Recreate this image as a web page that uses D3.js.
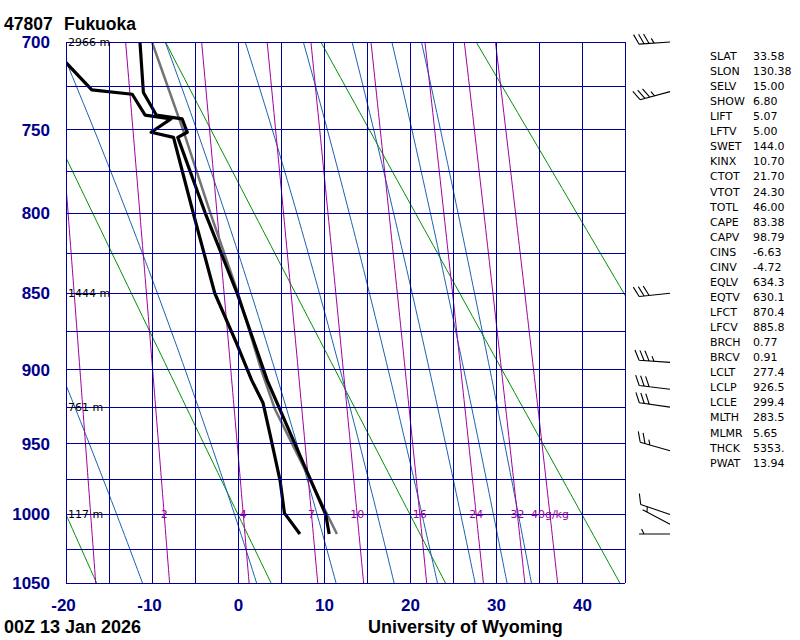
<!DOCTYPE html>
<html>
<head>
<meta charset="utf-8">
<title>47807 Fukuoka</title>
<script src="https://cdn.jsdelivr.net/npm/d3@7"></script>
<style>
body { margin: 0; background: #fff; }
svg text { font-family: "DejaVu Sans", sans-serif; }
.bold { font-family: "Liberation Sans", Arial, sans-serif; font-weight: bold; }
</style>
</head>
<body>
<svg id="chart" width="800" height="640"></svg>
<script>
// ----- sounding (hPa, degC) -----
var tempP = [1014, 1000, 907, 850, 800, 754.5, 751.5, 743.7, 741.5, 728.5, 700];
var tempT = [10.6, 10.2, 3.4, -0.1, -3.8, -7.0, -5.9, -6.5, -9.5, -11.0, -11.4];

var dewP = [1014, 999, 976, 943, 922, 907, 882, 850, 800, 754.5, 751.5, 743.7, 741.5, 729.5, 727, 711, 700];
var dewT = [7.2, 5.4, 4.9, 3.7, 2.9, 1.6, -0.2, -2.7, -5.2, -7.5, -10.1, -7.8, -10.8, -12.3, -17.0, -20.1, -22.4];

var parcelP = [1014, 926.5, 900, 850, 800, 750, 700];
var parcelT = [11.5, 4.3, 2.7, 0.0, -3.2, -6.4, -10.0];

// height labels on the left
var hgtP = [700, 850, 925, 1000];
var hgtLabel = ["2966 m", "1444 m", "761 m", "117 m"];

// winds (direction deg, speed kt)
var windP = [700, 728, 850, 895, 913, 925, 955, 1000, 1007, 1014];
var windDir = [266, 255, 264, 274, 277, 278, 286, 289, 298, 270];
var windSpd = [35, 35, 30, 35, 30, 30, 25, 10, 5, 5];

// background lines
var isotherms = d3.range(-20, 46, 5);
var isobars = d3.range(700, 1051, 25);
var dryTheta = [-20, 0, 20, 40, 60, 80];             // potential temp, degC
var moistTw = [-14.1, -0.4, 9.2, 16.2, 21.4, 25.9, 29.7, 32.6];  // temp at 1000 hPa
var mixRatio = [1, 2, 4, 7, 10, 16, 24, 32, 40];     // g/kg
var mixLabel = ["", "2", "4", "7", "10", "16", "24", "32", "40g/kg"];

// axis labels
var pLabels = [700, 750, 800, 850, 900, 950, 1000, 1050];
var tLabels = [-20, -10, 0, 10, 20, 30, 40];

// station indices
var statNames = ["SLAT", "SLON", "SELV", "SHOW", "LIFT", "LFTV", "SWET", "KINX", "CTOT", "VTOT",
  "TOTL", "CAPE", "CAPV", "CINS", "CINV", "EQLV", "EQTV", "LFCT", "LFCV", "BRCH", "BRCV",
  "LCLT", "LCLP", "LCLE", "MLTH", "MLMR", "THCK", "PWAT"];
var statValues = ["33.58", "130.38", "15.00", "6.80", "5.07", "5.00", "144.0", "10.70", "21.70", "24.30",
  "46.00", "83.38", "98.79", "-6.63", "-4.72", "634.3", "630.1", "870.4", "885.8", "0.77", "0.91",
  "277.4", "926.5", "299.4", "283.5", "5.65", "5353.", "13.94"];

var navy = "#000096", green = "#009000", blue = "#1a62b0", purple = "#a000a0";

var svg = d3.select("#chart");

// Stuve: x linear in T, y linear in p^0.286
var x = d3.scaleLinear().domain([-20, 45]).range([66, 625]);
var y = d3.scalePow().exponent(0.286).domain([700, 1050]).range([42, 583]);

// ----- thermo helpers for the background curves -----
function es(t) { return 6.112 * Math.exp(17.67 * t / (t + 243.5)); }
function thetaE(t, p) {
  var e = es(t), r = 0.622 * e / (p - e), tk = t + 273.15;
  return tk * Math.pow(1000 / p, 0.286) * Math.exp(2490 * r / tk);
}
function satTemp(te, p) {
  var lo = -100, hi = 60;
  for (var i = 0; i < 50; i++) {
    var mid = (lo + hi) / 2;
    if (thetaE(mid, p) > te) hi = mid; else lo = mid;
  }
  return (lo + hi) / 2;
}
function mixTemp(w, p) {
  var a = Math.log(w * p / (622 + w) / 6.112);
  return 243.5 * a / (17.67 - a);
}

var pRange = d3.range(700, 1051, 5);
var line = d3.line().x(function(d) { return x(d[1]); }).y(function(d) { return y(d[0]); });

svg.append("clipPath").attr("id", "plot")
  .append("rect").attr("x", 66).attr("y", 42).attr("width", 559).attr("height", 541);

var plot = svg.append("g").attr("clip-path", "url(#plot)");

// dry adiabats
plot.selectAll(".dry").data(dryTheta).enter().append("path")
  .attr("fill", "none").attr("stroke", green).attr("stroke-width", 1)
  .attr("d", function(th) {
    return line(pRange.map(function(p) { return [p, (th + 273.15) * Math.pow(p / 1000, 0.286) - 273.15]; }));
  });

// moist adiabats
plot.selectAll(".moist").data(moistTw).enter().append("path")
  .attr("fill", "none").attr("stroke", blue).attr("stroke-width", 1)
  .attr("d", function(tw) {
    var te = thetaE(tw, 1000);
    return line(pRange.map(function(p) { return [p, satTemp(te, p)]; }));
  });

// mixing ratio lines
plot.selectAll(".mix").data(mixRatio).enter().append("path")
  .attr("fill", "none").attr("stroke", purple).attr("stroke-width", 1)
  .attr("d", function(w) {
    return line(pRange.map(function(p) { return [p, mixTemp(w, p)]; }));
  });

// isotherms and isobars
svg.append("g").attr("shape-rendering", "crispEdges").selectAll("line").data(isotherms).enter().append("line")
  .attr("x1", x).attr("x2", x).attr("y1", y(700)).attr("y2", y(1050))
  .attr("stroke", navy).attr("stroke-width", 1);
svg.append("g").attr("shape-rendering", "crispEdges").selectAll("line").data(isobars).enter().append("line")
  .attr("x1", x(-20)).attr("x2", x(45)).attr("y1", y).attr("y2", y)
  .attr("stroke", navy).attr("stroke-width", 1);

// mixing ratio labels at 1000 hPa
svg.selectAll(".mixlab").data(mixRatio).enter().append("text")
  .attr("x", function(w) { return x(mixTemp(w, 1000)); })
  .attr("y", y(1000)).attr("dy", "0.36em")
  .attr("text-anchor", "middle").attr("font-size", 11).attr("fill", purple)
  .text(function(w, i) { return mixLabel[i]; });

// height labels
svg.selectAll(".hgt").data(hgtP).enter().append("text")
  .attr("x", 68).attr("y", y).attr("dy", "0.36em")
  .attr("font-size", 11).attr("fill", "#000")
  .text(function(p, i) { return hgtLabel[i]; });

// sounding lines
function pairs(ps, ts) { return ps.map(function(p, i) { return [p, ts[i]]; }); }
plot.append("path").attr("d", line(pairs(parcelP, parcelT)))
  .attr("fill", "none").attr("stroke", "#737373").attr("stroke-width", 2.5);
plot.append("path").attr("d", line(pairs(dewP, dewT)))
  .attr("fill", "none").attr("stroke", "#000").attr("stroke-width", 3.2).attr("stroke-linejoin", "round");
plot.append("path").attr("d", line(pairs(tempP, tempT)))
  .attr("fill", "none").attr("stroke", "#000").attr("stroke-width", 3.2).attr("stroke-linejoin", "round");

// axes
var yAxis = svg.append("g").attr("transform", "translate(66,0)")
  .call(d3.axisLeft(y).tickValues(pLabels).tickSize(0).tickPadding(16).tickFormat(String));
var xAxis = svg.append("g").attr("transform", "translate(0,583)")
  .call(d3.axisBottom(x).tickValues(tLabels).tickSize(0).tickPadding(16).tickFormat(String));
[yAxis, xAxis].forEach(function(ax) {
  ax.select(".domain").remove();
  ax.selectAll("text").attr("class", "bold").attr("font-size", 17).attr("fill", "#00008b");
});
// minus sign hangs to the left of the centred digits
xAxis.selectAll("text").filter(function(d) { return d < 0; }).attr("dx", -3);

// wind barbs
function barb(p, dir, spd) {
  var x0 = 670, y0 = y(p), L = 31, sp = 5;
  var a = dir * Math.PI / 180;
  var ux = Math.sin(a), uy = -Math.cos(a);
  var nx = -uy, ny = ux;
  var c = Math.cos(64 * Math.PI / 180), s = Math.sin(64 * Math.PI / 180);
  var fx = c * ux + s * nx, fy = c * uy + s * ny;
  var d = "M" + x0 + "," + y0 + "L" + (x0 + ux * L) + "," + (y0 + uy * L);
  var v = Math.round(spd / 5) * 5, full = Math.floor(v / 10), half = v % 10 >= 5;
  var k = 0;
  if (full === 0 && half) k = 1;
  for (var i = 0; i < full + (half ? 1 : 0); i++, k++) {
    var len = i < full ? 11 : 5.5;
    var bx = x0 + ux * (L - k * sp), by = y0 + uy * (L - k * sp);
    d += "M" + bx + "," + by + "L" + (bx + fx * len) + "," + (by + fy * len);
  }
  return d;
}
svg.append("g").selectAll("path").data(windP).enter().append("path")
  .attr("d", function(p, i) { return barb(p, windDir[i], windSpd[i]); })
  .attr("fill", "none").attr("stroke", "#000").attr("stroke-width", 1.1);

// station indices
var stats = svg.append("g").attr("font-size", 11).attr("fill", "#000");
stats.selectAll(".sn").data(statNames).enter().append("text")
  .attr("x", 710).attr("y", function(d, i) { return 60 + i * 15.06; }).text(function(d) { return d; });
stats.selectAll(".sv").data(statValues).enter().append("text")
  .attr("x", 753).attr("y", function(d, i) { return 60 + i * 15.06; }).text(function(d) { return d; });

// titles
svg.append("text").attr("class", "bold").attr("x", 4).attr("y", 30).attr("font-size", 17.5).text("47807");
svg.append("text").attr("class", "bold").attr("x", 64).attr("y", 30).attr("font-size", 17.5).text("Fukuoka");
svg.append("text").attr("class", "bold").attr("x", 4).attr("y", 633).attr("font-size", 18).text("00Z 13 Jan 2026");
svg.append("text").attr("class", "bold").attr("x", 368).attr("y", 633).attr("font-size", 18).text("University of Wyoming");
</script>
</body>
</html>
